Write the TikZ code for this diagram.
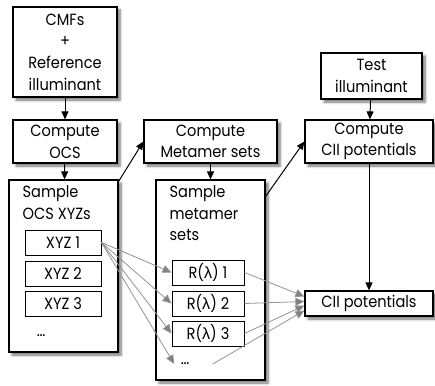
\documentclass[tikz,border=0pt]{standalone}
\usepackage{fontspec}
\setmainfont{Poppins}[FakeStretch=0.9]
\newfontfamily\greekfont{Liberation Sans}
\usetikzlibrary{shadows.blur,arrows.meta,calc}
\newcommand{\lam}{{\greekfont λ}}
\begin{document}
\begin{tikzpicture}[x=1pt,y=-1pt,
  font=\fontsize{16.2}{21.7}\selectfont,
  box/.style={draw=black,line width=1.2pt,fill=white,inner sep=0pt,align=center,
    blur shadow={shadow xshift=3pt,shadow yshift=-3pt,shadow blur radius=2.5pt,
                 shadow blur steps=6,shadow opacity=55}},
  % a taller first line pushes stacked text a little lower in its box
  lowered/.style={execute at begin node={\rule{0pt}{16.5pt}}},
  item/.style={draw=black,line width=1pt,fill=white,minimum height=25pt,inner sep=0pt},
  flow/.style={draw=black,line width=1pt,-{Triangle[length=8pt,width=7pt]}},
  fan/.style={draw=black!42,line width=0.8pt,-{Triangle[length=9pt,width=8pt,fill=black!50]}},
  txt/.style={inner sep=0pt,align=left,anchor=north west}
]
\useasboundingbox (0,0) rectangle (435,385);

% top row of inputs and computations
\node[box,lowered,minimum width=104pt,minimum height=90pt] (cmf) at (65,52)
  {CMFs\\+\\Reference\\illuminant};
\node[box,lowered,minimum width=104pt,minimum height=43pt] (cocs) at (65,141.5)
  {Compute\\OCS};
\node[box,lowered,minimum width=133pt,minimum height=43pt] (cmet) at (210.5,141.5)
  {Compute\\Metamer sets};
\node[box,lowered,minimum width=101pt,minimum height=46pt] (test) at (371.5,76)
  {Test\\illuminant};
\node[box,lowered,minimum width=128pt,minimum height=43pt] (ccii) at (369,141.5)
  {Compute\\CII potentials};

% sampled OCS points
\node[box,minimum width=109pt,minimum height=172pt] (socs) at (63.5,266) {};
\node[txt] (socslbl) at ($(socs.north west)+(14,6)$) {Sample\\OCS XYZs};
\node[item,minimum width=76pt] (x1) at (63,242.5) {XYZ 1};
\node[item,minimum width=76pt] (x2) at (63,273.5) {XYZ 2};
\node[item,minimum width=76pt] (x3) at (63,304) {XYZ 3};
\node (xdots) at (41,336) {\dots};

% sampled metamer sets
\node[box,minimum width=109pt,minimum height=200pt] (smet) at (210.5,280) {};
\node[txt] (smetlbl) at ($(smet.north west)+(14,6)$) {Sample\\metamer\\sets};
\node[item,minimum width=72pt] (r1) at (208,272.5) {R(\lam) 1};
\node[item,minimum width=72pt] (r2) at (208,303.5) {R(\lam) 2};
\node[item,minimum width=72pt] (r3) at (208,333.5) {R(\lam) 3};
\node (rdots) at (185,364) {\dots};

% result
\node[box,minimum width=128pt,minimum height=25pt] (cii) at (369,303.5) {CII potentials};

% main flow
\draw[flow] (cmf) -- (cocs);
\draw[flow] (cocs) -- (socs);
\draw[flow] (cmet) -- (smet);
\draw[flow] (test) -- (ccii);
\draw[flow] (ccii) -- (cii);
\draw[flow] ([yshift=-2pt]socs.north east) -- (cmet.west);
\draw[flow] ([yshift=-17pt]smet.north east) -- (ccii.west);

% one XYZ fans out to many reflectances
\draw[fan] (x1.east) -- (r1.west);
\draw[fan] (x1.east) -- (r2.west);
\draw[fan] (x1.east) -- (r3.west);
\draw[fan] (x1.east) -- ([xshift=-3pt]rdots.west);

% all reflectances feed the potentials
\draw[fan] (r1.east) -- ([yshift=7pt]cii.west);
\draw[fan] (r2.east) -- ([yshift=2pt]cii.west);
\draw[fan] (r3.east) -- ([yshift=-2pt]cii.west);
\draw[fan] ([xshift=20pt]rdots.east) -- ([yshift=-7pt]cii.west);
\end{tikzpicture}
\end{document}
